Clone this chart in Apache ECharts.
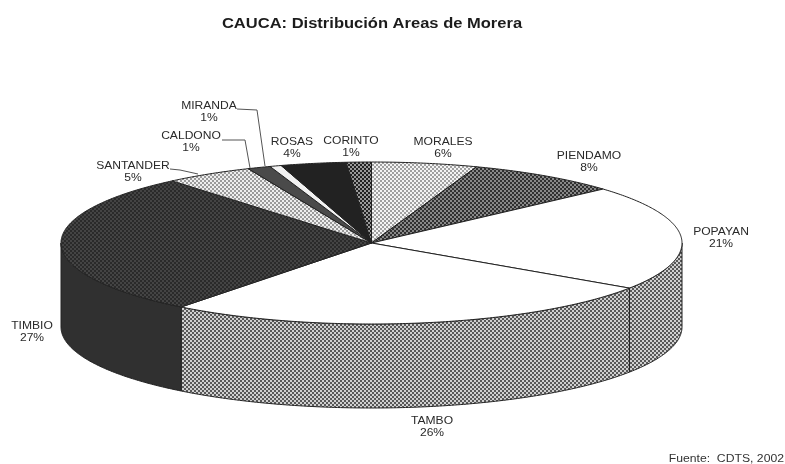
<!DOCTYPE html>
<html>
<head>
<meta charset="utf-8">
<style>html,body{margin:0;padding:0;background:#fff}#c{width:785px;height:464px}#c canvas{filter:blur(0.45px)}</style>
<script src="https://cdn.jsdelivr.net/npm/echarts@6/dist/echarts.min.js"></script>
</head>
<body>
<div id="c"></div>
<script>
const categories = ['MORALES','PIENDAMO','POPAYAN','TAMBO','TIMBIO','SANTANDER','CALDONO','MIRANDA','ROSAS','CORINTO'];
const sliceShares = [5.5, 7.9, 21.0, 26.1, 28.4, 4.6, 1.2, 0.6, 3.4, 1.3];
// percentages as printed on the labels
const printedPercents = ['6%','8%','21%','26%','27%','5%','1%','1%','4%','1%'];

const labelSpots = [[443,148.5],[589,162],[721,238],[432,427],[32,332.5],[133,172],[191,142],[209,112],[292,148.5],[351,147.5]];
const leaders = [
  null,null,null,null,null,
  [[170,169],[180,170],[198,174]],
  [[222,140],[245,140],[250,168]],
  [[237,109],[257,110],[265,166]],
  null,null
];

function checker(a, b) {
  const t = document.createElement('canvas');
  t.width = t.height = 4;
  const g = t.getContext('2d');
  g.fillStyle = a; g.fillRect(0,0,4,4);
  g.fillStyle = b; g.fillRect(0,0,2,2); g.fillRect(2,2,2,2);
  return {image:t, repeat:'repeat'};
}
const topFills = [
  checker('#f4f4f4','#a0a0a0'), checker('#888888','#303030'), '#ffffff', '#ffffff',
  checker('#444444','#2a2a2a'), checker('#eeeeee','#9a9a9a'), '#4a4a4a', '#f2f2f2',
  '#222222', checker('#9a9a9a','#222222')
];
const sideFill = checker('#d0d0d0','#585858');
const sideFills = [sideFill, sideFill, sideFill, sideFill, '#303030', '#303030','#303030','#303030','#303030','#303030'];

const cx = 371.5, cy = 243, rx = 310.5, ry = 81, depth = 84;
const total = sliceShares.reduce((s,v)=>s+v,0);
let run = 0;
const rows = sliceShares.map((v,i)=>{ const r=[run,run+v,i]; run+=v; return r; });

function rim(a0, a1, dy) {
  const pts = [], n = Math.max(2, Math.ceil((a1-a0)/0.01));
  for (let k=0;k<=n;k++){
    const a = a0+(a1-a0)*k/n;
    pts.push([cx+rx*Math.sin(a), cy-ry*Math.cos(a)+dy]);
  }
  return pts;
}

function renderSlice(params, api) {
  const i = api.value(2);
  const a0 = api.value(0)/total*2*Math.PI, a1 = api.value(1)/total*2*Math.PI;
  const children = [];
  const s0 = Math.max(a0, Math.PI/2), s1 = Math.min(a1, 3*Math.PI/2);
  if (s1 > s0) {
    children.push({type:'polygon', shape:{points: rim(s0,s1,0).concat(rim(s0,s1,depth).reverse())},
      style:{fill:sideFills[i], stroke:'#222', lineWidth:1}});
  }
  children.push({type:'polygon', shape:{points: [[cx,cy]].concat(rim(a0,a1,0))},
    style:{fill:topFills[i], stroke:'#222', lineWidth:1}});
  return {type:'group', children};
}

const textColor = '#2a2a2a';
const graphics = [];
categories.forEach((name,i)=>{
  graphics.push({type:'text', x:labelSpots[i][0], y:labelSpots[i][1], scaleX:1.15, silent:true,
    style:{text:name+'\n'+printedPercents[i], fill:textColor, font:'10.5px "Liberation Sans"', align:'center', verticalAlign:'middle', lineHeight:12}});
  if (leaders[i]) graphics.push({type:'polyline', silent:true, shape:{points:leaders[i]}, style:{stroke:'#555', lineWidth:1, fill:null}});
});
graphics.push({type:'text', x:372, y:24, scaleX:1.18, silent:true,
  style:{text:'CAUCA: Distribución Areas de Morera', fill:'#1c1c1c', font:'bold 14px "Liberation Sans"', align:'center', verticalAlign:'middle'}});
graphics.push({type:'text', x:784, y:459, scaleX:1.22, silent:true,
  style:{text:'Fuente:  CDTS, 2002', fill:'#333', font:'10px "Liberation Sans"', align:'right', verticalAlign:'middle'}});

const chart = echarts.init(document.getElementById('c'), null, {renderer:'canvas'});
chart.setOption({
  animation:false,
  backgroundColor:'#ffffff',
  series:[{type:'custom', coordinateSystem:'none', silent:true, renderItem:renderSlice, data:rows, encode:{}}],
  graphic:graphics
});
</script>
</body>
</html>
